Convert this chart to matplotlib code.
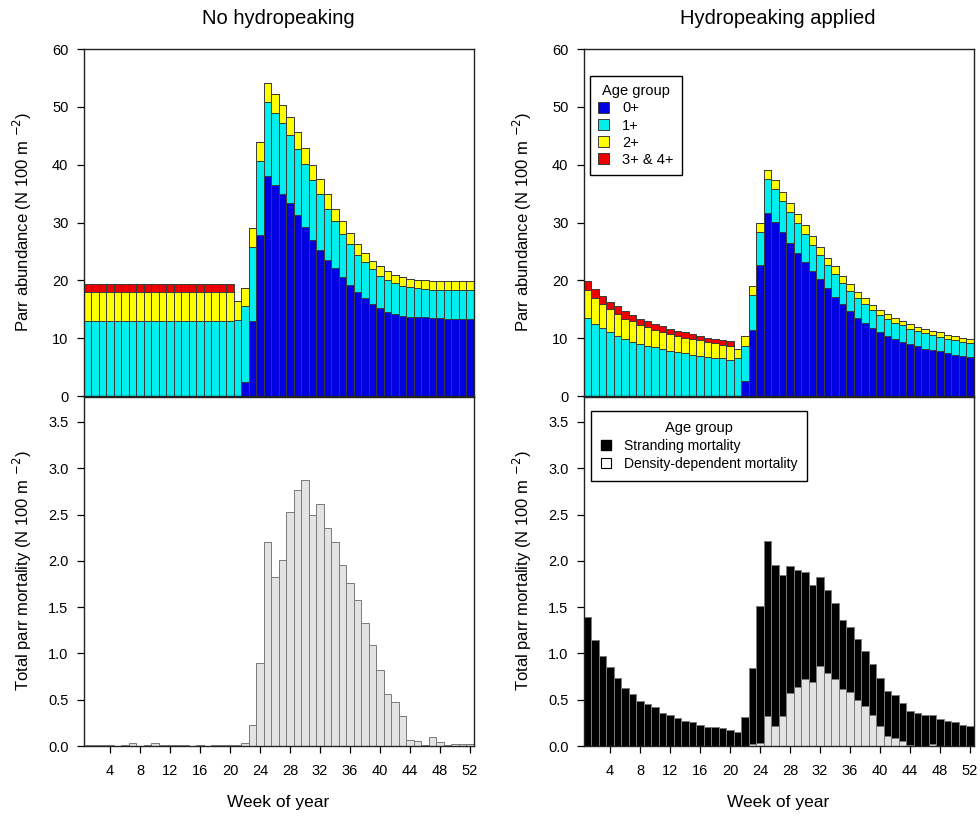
import numpy as np
import matplotlib
matplotlib.use("Agg")
import matplotlib.pyplot as plt
from matplotlib.patches import Patch

plt.rcParams['font.family'] = ['Liberation Sans', 'DejaVu Sans']

weeks = np.arange(1, 53)

# no hydropeaking, parr abundance by age group
nh_age0 = np.array([0]*21 + [2.4, 12.9, 27.9, 38.1, 36.5, 34.9, 33.3, 31.3, 29.2, 27.0, 25.3, 23.5,
                    22.1, 20.5, 19.2, 17.9, 16.9, 15.9, 15.2, 14.6, 14.2, 13.9, 13.7, 13.6, 13.6,
                    13.5, 13.5, 13.4, 13.4, 13.4, 13.4])
nh_age1 = np.array([13.0]*20 + [13.1, 13.1, 12.8, 12.8, 12.8, 12.4, 12.3, 11.9, 11.4, 10.9, 10.4, 9.6,
                    8.9, 8.1, 7.5, 7.0, 6.5, 6.2, 6.0, 5.6, 5.5, 5.3, 5.1, 5.1, 5.0, 4.9,
                    4.9, 4.9, 4.9, 4.9, 4.9, 4.9])
nh_age2 = np.array([4.9]*20 + [3.3, 3.1, 3.3, 3.3, 3.2, 3.3, 3.1, 3.0, 3.0, 2.7, 2.6, 2.6,
                    2.5, 2.2, 2.2, 1.9, 1.9, 1.6, 1.5, 1.6, 1.5, 1.4, 1.5, 1.5, 1.5, 1.5,
                    1.5, 1.5, 1.5, 1.5, 1.5, 1.5])
nh_age3 = np.array([1.5, 1.5, 1.5, 1.5, 1.5, 1.5, 1.5, 1.5, 1.5, 1.5, 1.4, 1.4, 1.4, 1.4,
                    1.4, 1.4, 1.4, 1.4, 1.4, 1.4] + [0]*32)

# hydropeaking applied, parr abundance by age group
hp_age0 = np.array([0]*21 + [2.6, 11.4, 22.7, 31.6, 30.1, 28.3, 26.5, 24.8, 23.2, 21.6, 20.2, 18.6,
                    17.2, 15.9, 14.7, 13.5, 12.6, 11.7, 11.0, 10.4, 9.8, 9.4, 9.0, 8.7, 8.2,
                    8.0, 7.7, 7.4, 7.1, 6.9, 6.7])
hp_age1 = np.array([13.5, 12.5, 11.7, 11.0, 10.4, 9.9, 9.4, 9.0, 8.7, 8.4, 8.1, 7.8, 7.6, 7.4,
                    7.1, 7.0, 6.8, 6.6, 6.5, 6.2, 6.5, 6.1, 6.0, 5.7, 5.9, 5.7, 5.5, 5.4,
                    5.2, 4.8, 4.5, 4.1, 4.1, 3.9, 3.6, 3.5, 3.5, 3.3, 3.1, 3.0, 2.9, 2.9,
                    2.8, 2.6, 2.5, 2.7, 2.6, 2.5, 2.5, 2.5, 2.5, 2.4])
hp_age2 = np.array([4.8, 4.5, 4.2, 4.0, 3.8, 3.5, 3.5, 3.3, 3.2, 3.0, 2.9, 2.9, 2.8, 2.7,
                    2.7, 2.6, 2.5, 2.5, 2.4, 2.5, 1.6, 1.7, 1.7, 1.6, 1.6, 1.5, 1.5, 1.5,
                    1.5, 1.5, 1.5, 1.4, 1.2, 1.3, 1.3, 1.1, 1.0, 1.0, 0.9, 0.9, 0.8, 0.8,
                    0.8, 0.9, 0.8, 0.7, 0.7, 0.8, 0.7, 0.7, 0.7, 0.7])
hp_age3 = np.array([1.6, 1.5, 1.4, 1.3, 1.3, 1.3, 1.1, 1.1, 1.1, 1.1, 1.1, 0.9, 0.9, 0.9,
                    0.9, 0.8, 0.8, 0.8, 0.8, 0.8] + [0]*32)

# mortality
nh_density = np.array([0.01, 0.01, 0.01, 0.01, 0.0, 0.01, 0.03, 0.0, 0.01, 0.03, 0.01, 0.01,
                       0.01, 0.01, 0.0, 0.01, 0.0, 0.01, 0.01, 0.01, 0.01, 0.03, 0.23, 0.90,
                       2.20, 1.83, 2.01, 2.53, 2.76, 2.87, 2.50, 2.61, 2.36, 2.20, 1.96, 1.76,
                       1.58, 1.33, 1.09, 0.82, 0.56, 0.47, 0.32, 0.07, 0.05, 0.01, 0.10, 0.04,
                       0.01, 0.02, 0.02, 0.02])
hp_density = np.array([0]*22 + [0.02, 0.03, 0.32, 0.22, 0.32, 0.57, 0.64, 0.72, 0.69, 0.86,
                       0.79, 0.72, 0.62, 0.58, 0.50, 0.43, 0.33, 0.22, 0.11, 0.09, 0.05, 0.01,
                       0.0, 0.0, 0.02, 0.0, 0.0, 0.0, 0.0, 0.0])
hp_stranding = np.array([1.39, 1.14, 0.97, 0.85, 0.73, 0.63, 0.56, 0.49, 0.45, 0.42, 0.36, 0.33,
                         0.30, 0.27, 0.26, 0.23, 0.21, 0.20, 0.19, 0.17, 0.15, 0.31, 0.82, 1.48,
                         1.89, 1.74, 1.53, 1.37, 1.26, 1.16, 1.05, 0.97, 0.89, 0.83, 0.74, 0.71,
                         0.66, 0.60, 0.56, 0.51, 0.48, 0.46, 0.41, 0.37, 0.36, 0.34, 0.31, 0.29,
                         0.27, 0.26, 0.23, 0.22])

age_cols = ['#0000E0', '#00EEEE', '#FFFF00', '#EE0000']
age_labels = ['0+', '1+', '2+', '3+ & 4+']
edge_top = '#3a3a3a'
edge_bot = '#7a7a7a'
grey = '#E3E3E3'

fig = plt.figure(figsize=(9.8, 8.17), dpi=100)
W, H = 980, 817


def make_ax(x0, x1, y0, y1):
    return fig.add_axes([x0/W, 1-y1/H, (x1-x0)/W, (y1-y0)/H])


def style(ax, ymax, yticks, labels_x):
    ax.set_xlim(0.5, 52.5)
    ax.set_ylim(0, ymax)
    ax.set_xticks(np.arange(4, 53, 4))
    ax.set_yticks(yticks)
    ax.tick_params(direction='out', length=5, width=0.9, labelsize=10.5, pad=6)
    if not labels_x:
        ax.tick_params(axis='x', labelbottom=False)
    else:
        ax.tick_params(axis='x', pad=8)
    for s in ax.spines.values():
        s.set_linewidth(1.0)
        s.set_color('#222222')


def stack(ax, parts):
    bottom = np.zeros(52)
    for vals, c in zip(parts, age_cols):
        ax.bar(weeks, vals, width=1, bottom=bottom, color=c, edgecolor=edge_top, linewidth=0.7)
        bottom = bottom + vals


ax1 = make_ax(83.75, 473.75, 49, 396)
stack(ax1, [nh_age0, nh_age1, nh_age2, nh_age3])
style(ax1, 60, np.arange(0, 61, 10), False)

ax2 = make_ax(583.75, 973.75, 49, 396)
stack(ax2, [hp_age0, hp_age1, hp_age2, hp_age3])
style(ax2, 60, np.arange(0, 61, 10), False)
handles = [Patch(facecolor=c, edgecolor=edge_top, linewidth=0.7) for c in age_cols]
ax2.legend(handles, age_labels, title='Age group', loc='upper left', bbox_to_anchor=(0.016, 0.922),
           borderaxespad=0, fontsize=10.5, title_fontsize=10.5, frameon=True, fancybox=False,
           edgecolor='black', framealpha=1, handlelength=0.75, handleheight=0.75,
           labelspacing=0.22, borderpad=0.55, handletextpad=0.9)

ax3 = make_ax(83.75, 473.75, 397, 746)
ax3.bar(weeks, nh_density, width=1, color=grey, edgecolor=edge_bot, linewidth=0.7)
style(ax3, 3.77, np.arange(0, 3.6, 0.5), True)
ax3.set_yticklabels(['%.1f' % v for v in np.arange(0, 3.6, 0.5)])

ax4 = make_ax(583.75, 973.75, 397, 746)
ax4.bar(weeks, hp_density, width=1, color=grey, edgecolor=edge_bot, linewidth=0.7)
ax4.bar(weeks, hp_stranding, width=1, bottom=hp_density, color='black', edgecolor=edge_bot, linewidth=0.7)
style(ax4, 3.77, np.arange(0, 3.6, 0.5), True)
ax4.set_yticklabels(['%.1f' % v for v in np.arange(0, 3.6, 0.5)])
h2 = [Patch(facecolor='black', edgecolor='black'), Patch(facecolor='white', edgecolor='black', linewidth=0.8)]
ax4.legend(h2, ['Stranding mortality', 'Density-dependent mortality'], title='Age group',
           loc='upper left', bbox_to_anchor=(0.0186, 0.96), borderaxespad=0, fontsize=10,
           title_fontsize=10.5, frameon=True, fancybox=False, edgecolor='black', framealpha=1,
           handlelength=0.75, handleheight=0.75, labelspacing=0.3, borderpad=0.7,
           handletextpad=0.9)

# titles and axis labels
fig.text(278/W, 1-18/H, 'No hydropeaking', ha='center', va='center', fontsize=14.5)
fig.text(778/W, 1-18/H, 'Hydropeaking applied', ha='center', va='center', fontsize=14.5)
for xl in [278, 778]:
    fig.text(xl/W, 1-803/H, 'Week of year', ha='center', va='center', fontsize=12.5)
for xp in [22, 522]:
    fig.text(xp/W, 1-222/H, 'Parr abundance (N 100 m $^{-2}$)', rotation=90,
             ha='center', va='center', fontsize=12)
    fig.text(xp/W, 1-571/H, 'Total parr mortality (N 100 m $^{-2}$)', rotation=90,
             ha='center', va='center', fontsize=12)

plt.savefig('out.png', dpi=100)
